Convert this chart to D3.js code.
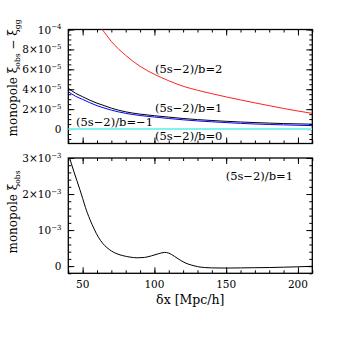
<!DOCTYPE html>
<html><head><meta charset="utf-8">
<script src="https://cdn.jsdelivr.net/npm/d3@7"></script>
<style>
body{margin:0;background:#fff;}
text{font-family:"DejaVu Serif","Liberation Serif",serif;fill:#000;}
</style></head>
<body><svg id="c" width="341" height="341"></svg>
<script>
// ---- data ----
const xGrid = [40,45,50,55,60,63.5,70,80,90,100,110,120,130,140,150,160,170,180,190,200,210];
const redVals   = [150,135,122,112,104.5,100,88,74,63,55,48.5,43,39,35.5,32.3,29.3,26.3,23.5,20.7,18.1,15.8]; // ×1e-6
const blackVals = [41,36,32.5,29,26,24.3,21,17.3,15,13.4,12,10.6,9.5,8.6,7.8,7.1,6.5,6,5.5,5.2,4.9];     // ×1e-6
const blueVals  = [37.6,33,29.8,26.5,23.5,21.8,19,15.8,13.6,12.1,10.6,9.3,8.2,7.3,6.5,5.7,5.1,4.6,4.2,3.8,3.5]; // ×1e-6
const cyanVals  = xGrid.map(() => 0);

const xBot = [40,42,44,46,48,50,52,55,58,61,64,67,70,74,78,83,88,93,98,103,107,110,114,118,122,126,130,135,140,150,160,170,180,190,200,210];
const botVals = [3.13,2.86,2.61,2.37,2.13,1.88,1.62,1.3,1.03,0.8,0.63,0.51,0.42,0.34,0.29,0.25,0.23,0.24,0.285,0.345,0.38,0.36,0.27,0.165,0.08,0.025,-0.015,-0.04,-0.05,-0.055,-0.05,-0.045,-0.04,-0.03,-0.02,-0.005]; // ×1e-3

const xTicks = [50,100,150,200];
const xTickLabels = ["50","100","150","200"];
const topYTicks = [0,2e-5,4e-5,6e-5,8e-5,1e-4];
const topYMant = ["0","2×10","4×10","6×10","8×10","10"];
const topYExp  = ["","−5","−5","−5","−5","−4"];
const botYTicks = [0,1e-3,2e-3,3e-3];
const botYMant = ["0","10","2×10","3×10"];
const botYExp  = ["","−3","−3","−3"];

const topLabels = ["(5s−2)/b=2","(5s−2)/b=1","(5s−2)/b=−1","(5s−2)/b=0"];
const botLabel = "(5s−2)/b=1";

// ---- layout ----
const svg = d3.select("#c");
const L = 68.3, R = 312.3;
const x = d3.scaleLinear().domain([40,210]).range([L,R]);
const yT = d3.scaleLinear().domain([-1.45e-5,1e-4]).range([143.5,29.5]);
const yB = d3.scaleLinear().domain([-0.2e-3,3e-3]).range([273.3,158]);

function panel(y, id, minorY, majorY){
  const [b,t] = y.range();
  svg.append("clipPath").attr("id",id).append("rect")
    .attr("x",L).attr("y",t).attr("width",R-L).attr("height",b-t);
  const g = svg.append("g");
  const minorX = d3.range(40,211,10);
  const axes = [
    [d3.axisBottom(x), b, true], [d3.axisTop(x), t, true],
    [d3.axisLeft(y), L, false], [d3.axisRight(y), R, false]
  ];
  axes.forEach(([ax, pos, isX])=>{
    [[isX?minorX:minorY,3],[isX?xTicks:majorY,6]].forEach(([tv,sz])=>{
      const gg = g.append("g").attr("transform", isX?`translate(0,${pos})`:`translate(${pos},0)`)
        .call(ax.tickValues(tv).tickSize(-sz).tickFormat(""));
      gg.select(".domain").remove();
      gg.selectAll("line").attr("stroke","#000").attr("stroke-width",1);
    });
  });
  svg.append("rect").attr("x",L).attr("y",t).attr("width",R-L).attr("height",b-t)
    .attr("fill","none").attr("stroke","#000").attr("stroke-width",1.3);
  return g;
}

// top panel
panel(yT,"clipT", d3.range(-1e-5,1.01e-4,5e-6), topYTicks);
const lineT = (vals)=> d3.line().x((d,i)=>x(xGrid[i])).y(d=>yT(d*1e-6)).curve(d3.curveMonotoneX)(vals);
const gT = svg.append("g").attr("clip-path","url(#clipT)");
gT.append("path").attr("d",lineT(cyanVals)).attr("fill","none").attr("stroke","#80f2f2").attr("stroke-width",2);
gT.append("path").attr("d",lineT(redVals)).attr("fill","none").attr("stroke","#ff2020").attr("stroke-width",1);
gT.append("path").attr("d",lineT(blackVals)).attr("fill","none").attr("stroke","#000").attr("stroke-width",1);
gT.append("path").attr("d",lineT(blueVals)).attr("fill","none").attr("stroke","#0000ff").attr("stroke-width",1);

// bottom panel
panel(yB,"clipB", d3.range(-2e-4,3.01e-3,2e-4), botYTicks);
const gB = svg.append("g").attr("clip-path","url(#clipB)");
gB.append("path").attr("d", d3.line().x((d,i)=>x(xBot[i])).y(d=>yB(d*1e-3)).curve(d3.curveMonotoneX)(botVals))
  .attr("fill","none").attr("stroke","#000").attr("stroke-width",1);

// tick labels
function yLabels(y, ticks, mant, exp){
  ticks.forEach((v,i)=>{
    const t = svg.append("text").attr("x",61.5).attr("y",y(v)+4).attr("text-anchor","end")
      .attr("font-size",10.5);
    t.append("tspan").text(mant[i]);
    if(exp[i]) t.append("tspan").attr("font-size",7).attr("dy",-4.5).text(exp[i]);
  });
}
yLabels(yT, topYTicks, topYMant, topYExp);
yLabels(yB, botYTicks, botYMant, botYExp);
xTicks.forEach((v,i)=>{
  svg.append("text").attr("x",x(v)).attr("y",287.5).attr("text-anchor","middle")
    .attr("font-size",10.5).text(xTickLabels[i]);
});

// axis titles
svg.append("text").attr("x",x(125)).attr("y",303.5).attr("text-anchor","middle")
  .attr("font-size",12.5).text("δx  [Mpc/h]");

function ytitle(cx, cy, parts){
  const t = svg.append("text").attr("transform",`translate(${cx},${cy}) rotate(-90)`)
    .attr("text-anchor","middle").attr("font-size",12);
  parts.forEach(p=>{
    const s = t.append("tspan").text(p[0]);
    if(p[1]) s.attr("dy",p[1]);
    if(p[2]) s.attr("font-size",p[2]);
  });
}
ytitle(17, 78, [["monopole ξ"],["obs",3,7.5],[" − ξ",-3],["gg",3,7.5]]);
ytitle(17, 212, [["monopole ξ"],["obs",3,7.5]]);

// curve labels
const lblPos = [[155,72.5],[155,111.5],[76,125.5],[155,140]];
topLabels.forEach((s,i)=>{
  svg.append("text").attr("x",lblPos[i][0]).attr("y",lblPos[i][1]).attr("font-size",11.5).text(s);
});
svg.append("text").attr("x",293).attr("y",180).attr("text-anchor","end").attr("font-size",11.5).text(botLabel);
</script></body></html>
